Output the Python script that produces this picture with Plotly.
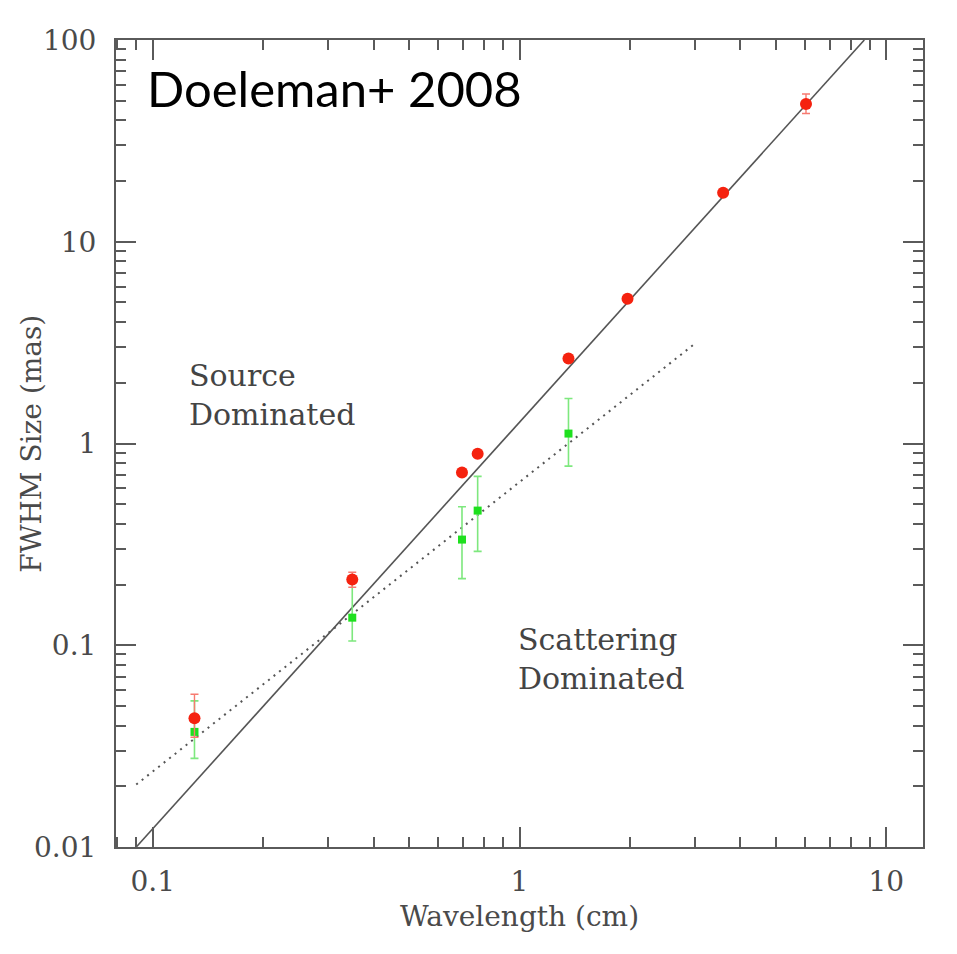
import plotly.graph_objects as go

# ---- data ----
red_wavelength = [0.130, 0.350, 0.697, 0.769, 1.36, 1.97, 3.59, 6.04]
red_size = [0.0435, 0.212, 0.718, 0.889, 2.64, 5.22, 17.5, 48.2]
red_err_plus = [0.0137, 0.018, 0, 0, 0, 0, 0, 5.8]
red_err_minus = [0.0085, 0.018, 0, 0, 0, 0, 0, 5.0]

green_wavelength = [0.130, 0.350, 0.697, 0.769, 1.36]
green_size = [0.0372, 0.137, 0.334, 0.465, 1.12]
green_upper = [0.053, 0.205, 0.486, 0.687, 1.67]
green_lower = [0.0275, 0.105, 0.214, 0.292, 0.772]

solid_line_x = [0.0902, 8.71]
solid_line_y = [0.01, 100]
dotted_line_x = [0.0902, 2.97]
dotted_line_y = [0.0204, 3.07]

x_major = [0.1, 1, 10]
x_major_text = ["0.1", "1", "10"]
y_major = [0.01, 0.1, 1, 10, 100]
y_major_text = ["0.01", "0.1", "1", "10", "100"]
x_minor = [m * d for d in (0.01, 0.1, 1, 10) for m in range(2, 10)]
y_minor = [m * d for d in (0.01, 0.1, 1, 10) for m in range(2, 10)]

green_plus = [u - v for u, v in zip(green_upper, green_size)]
green_minus = [v - l for v, l in zip(green_size, green_lower)]

AX = "#5a5a5a"
FONT = "DejaVu Serif"

fig = go.Figure()
fig.add_trace(go.Scatter(x=solid_line_x, y=solid_line_y, mode="lines",
                         line=dict(color="#555555", width=1.6), showlegend=False))
fig.add_trace(go.Scatter(x=dotted_line_x, y=dotted_line_y, mode="lines",
                         line=dict(color="#555555", width=2, dash="2px,5px"), showlegend=False))
fig.add_trace(go.Scatter(
    x=green_wavelength, y=green_size, mode="markers",
    marker=dict(symbol="square", size=8, color="#1ee01e"),
    error_y=dict(type="data", symmetric=False, array=green_plus, arrayminus=green_minus,
                 color="#7ee87e", thickness=1.6, width=4),
    showlegend=False))
fig.add_trace(go.Scatter(
    x=red_wavelength, y=red_size, mode="markers",
    marker=dict(symbol="circle", size=12, color="#f5220f"),
    error_y=dict(type="data", symmetric=False, array=red_err_plus, arrayminus=red_err_minus,
                 color="#f77a70", thickness=1.4, width=4),
    showlegend=False))

axis_common = dict(
    type="log", showgrid=False, zeroline=False, automargin=False,
    showline=True, linecolor=AX, linewidth=2, mirror="ticks",
    ticks="inside", ticklen=20, tickwidth=1.5, tickcolor=AX,
    tickfont=dict(family=FONT, size=28, color="#4a4a4a"),
    title_font=dict(family=FONT, size=28, color="#4a4a4a"),
)

fig.update_xaxes(
    **axis_common, range=[-1.1, 1.1],
    tickmode="array", tickvals=x_major, ticktext=x_major_text,
    minor=dict(tickmode="array", tickvals=x_minor, ticks="inside", ticklen=10,
               tickwidth=1.5, tickcolor=AX, showgrid=False),
    title=dict(text="Wavelength (cm)", standoff=10),
    ticklabelstandoff=8,
)
fig.update_yaxes(
    **axis_common, range=[-2, 2],
    tickmode="array", tickvals=y_major, ticktext=y_major_text,
    minor=dict(tickmode="array", tickvals=y_minor, ticks="inside", ticklen=10,
               tickwidth=1.5, tickcolor=AX, showgrid=False),
    ticklabelstandoff=12,
)

fig.add_annotation(text="FWHM Size (mas)", xref="paper", yref="paper",
                   x=-0.105, y=0.5, xanchor="center", yanchor="middle", showarrow=False,
                   textangle=-90, font=dict(family=FONT, size=28, color="#4a4a4a"))
fig.add_annotation(text="Doeleman+ 2008", xref="paper", yref="paper",
                   x=0.036, y=0.94, xanchor="left", yanchor="middle", showarrow=False,
                   font=dict(family="Lato", size=49, color="#000000"))
fig.add_annotation(text="Source<br>Dominated", xref="paper", yref="paper",
                   x=0.088, y=0.56, xanchor="left", yanchor="middle", showarrow=False,
                   align="left", font=dict(family=FONT, size=30, color="#444444"))
fig.add_annotation(text="Scattering<br>Dominated", xref="paper", yref="paper",
                   x=0.496, y=0.233, xanchor="left", yanchor="middle", showarrow=False,
                   align="left", font=dict(family=FONT, size=30, color="#444444"))

fig.update_layout(
    width=957, height=954,
    margin=dict(l=116, r=34, t=40, b=107),
    paper_bgcolor="white", plot_bgcolor="white",
    showlegend=False,
)

fig.write_html("out.html")
